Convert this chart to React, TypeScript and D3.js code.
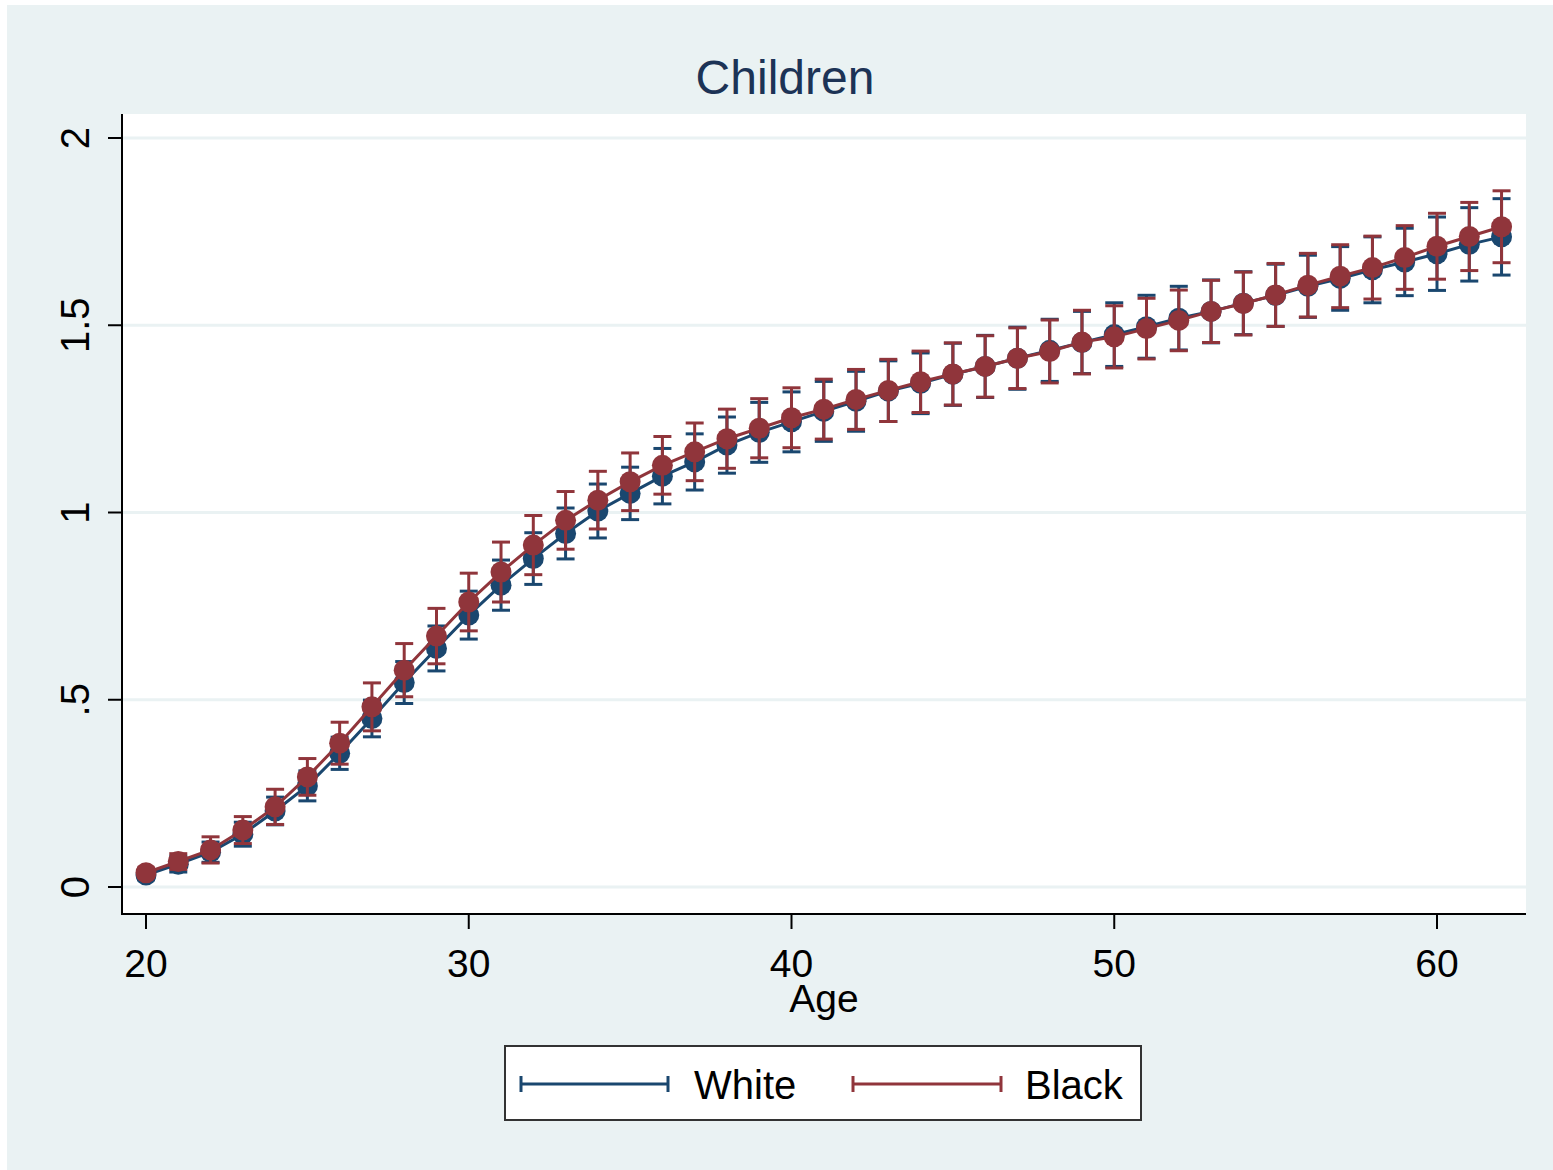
import React from "react";
import * as d3 from "d3";

const ages: number[] = d3.range(20, 63);

const blackMean: number[] = [
  0.038, 0.068, 0.099, 0.152, 0.214, 0.294, 0.384, 0.481, 0.579, 0.670,
  0.761, 0.841, 0.913, 0.979, 1.033, 1.082, 1.126, 1.162, 1.197, 1.225,
  1.253, 1.276, 1.302, 1.326, 1.349, 1.370, 1.390, 1.412, 1.430, 1.455,
  1.469, 1.491, 1.513, 1.537, 1.558, 1.581, 1.607, 1.631, 1.654, 1.681,
  1.711, 1.737, 1.763,
];
const blackCI: number[] = [
  0.013, 0.021, 0.035, 0.036, 0.047, 0.049, 0.056, 0.064, 0.071, 0.074,
  0.077, 0.080, 0.079, 0.077, 0.077, 0.077, 0.077, 0.077, 0.079, 0.079,
  0.080, 0.080, 0.080, 0.083, 0.082, 0.083, 0.082, 0.081, 0.084, 0.085,
  0.083, 0.081, 0.081, 0.083, 0.084, 0.084, 0.085, 0.084, 0.084, 0.085,
  0.088, 0.091, 0.096,
];
const whiteMean: number[] = [
  0.032, 0.061, 0.093, 0.141, 0.203, 0.270, 0.357, 0.450, 0.546, 0.637,
  0.726, 0.806, 0.877, 0.944, 1.004, 1.051, 1.097, 1.135, 1.180, 1.214,
  1.242, 1.270, 1.297, 1.324, 1.345, 1.369, 1.390, 1.412, 1.433, 1.454,
  1.475, 1.496, 1.519, 1.537, 1.559, 1.580, 1.604, 1.625, 1.648, 1.669,
  1.691, 1.716, 1.736,
];
const whiteCI: number[] = [
  0.013, 0.021, 0.027, 0.032, 0.037, 0.040, 0.043, 0.049, 0.056, 0.060,
  0.064, 0.067, 0.069, 0.068, 0.072, 0.070, 0.074, 0.075, 0.075, 0.080,
  0.080, 0.080, 0.080, 0.081, 0.081, 0.083, 0.083, 0.083, 0.083, 0.083,
  0.085, 0.084, 0.085, 0.084, 0.084, 0.083, 0.083, 0.085, 0.088, 0.090,
  0.098, 0.098, 0.102,
];

const xTicks: number[] = [20, 30, 40, 50, 60];
const yTicks: number[] = [0, 0.5, 1, 1.5, 2];
const yTickLabels: string[] = ["0", ".5", "1", "1.5", "2"];

const titleText = "Children";
const xTitle = "Age";
const seriesNames: string[] = ["White", "Black"];

const BG = "#eaf2f3";
const NAVY = "#1a476f";
const MAROON = "#90353b";
const FONT = "'Liberation Sans', Arial, sans-serif";

export default function App() {
  const W = 1553;
  const H = 1170;
  const plotL = 122;
  const plotR = 1526;
  const plotT = 114;
  const plotB = 914;

  const x = d3.scaleLinear().domain([20, 60]).range([146, 1437]);
  const y = d3.scaleLinear().domain([0, 2]).range([887, 138]);

  const line = d3
    .line<[number, number]>()
    .x((d) => x(d[0]))
    .y((d) => y(d[1]));

  const series = [
    { name: seriesNames[0], mean: whiteMean, ci: whiteCI, color: NAVY },
    { name: seriesNames[1], mean: blackMean, ci: blackCI, color: MAROON },
  ];

  const capW = 9;

  return (
    <svg
      width={W}
      height={H}
      style={{ position: "absolute", left: 0, top: 0, display: "block" }}
      xmlns="http://www.w3.org/2000/svg"
    >
      <rect x={0} y={0} width={W} height={H} fill="#ffffff" />
      <rect x={7} y={5} width={W - 7} height={H - 5} fill={BG} />
      <rect x={plotL} y={plotT} width={plotR - plotL} height={plotB - plotT} fill="#ffffff" />

      {yTicks.map((t) => (
        <line
          key={"g" + t}
          x1={plotL}
          x2={plotR}
          y1={y(t)}
          y2={y(t)}
          stroke={BG}
          strokeWidth={3}
        />
      ))}

      {series.map((s) => (
        <g key={s.name}>
          {ages.map((a, i) => (
            <g key={a} stroke={s.color} strokeWidth={3}>
              <line x1={x(a)} x2={x(a)} y1={y(s.mean[i] - s.ci[i])} y2={y(s.mean[i] + s.ci[i])} />
              <line x1={x(a) - capW} x2={x(a) + capW} y1={y(s.mean[i] + s.ci[i])} y2={y(s.mean[i] + s.ci[i])} />
              <line x1={x(a) - capW} x2={x(a) + capW} y1={y(s.mean[i] - s.ci[i])} y2={y(s.mean[i] - s.ci[i])} />
            </g>
          ))}
          <path
            d={line(ages.map((a, i) => [a, s.mean[i]] as [number, number])) || ""}
            fill="none"
            stroke={s.color}
            strokeWidth={3}
          />
          {ages.map((a, i) => (
            <circle key={"m" + a} cx={x(a)} cy={y(s.mean[i])} r={10.5} fill={s.color} />
          ))}
        </g>
      ))}

      {/* axes */}
      <line x1={plotL} x2={plotL} y1={plotT} y2={plotB + 1} stroke="#000" strokeWidth={2} />
      <line x1={plotL - 1} x2={plotR} y1={plotB} y2={plotB} stroke="#000" strokeWidth={2} />

      {yTicks.map((t, i) => (
        <g key={"yt" + t}>
          <line x1={plotL - 14} x2={plotL} y1={y(t)} y2={y(t)} stroke="#000" strokeWidth={2} />
          <text
            transform={`translate(89,${y(t)}) rotate(-90)`}
            textAnchor="middle"
            fontFamily={FONT}
            fontSize={40}
            fill="#000"
          >
            {yTickLabels[i]}
          </text>
        </g>
      ))}

      {xTicks.map((t) => (
        <g key={"xt" + t}>
          <line x1={x(t)} x2={x(t)} y1={plotB} y2={plotB + 15} stroke="#000" strokeWidth={2} />
          <text x={x(t)} y={977} textAnchor="middle" fontFamily={FONT} fontSize={39} fill="#000">
            {t}
          </text>
        </g>
      ))}

      <text x={(plotL + plotR) / 2} y={1012} textAnchor="middle" fontFamily={FONT} fontSize={39} fill="#000">
        {xTitle}
      </text>

      <text x={785} y={94} textAnchor="middle" fontFamily={FONT} fontSize={48} fill="#1c3356">
        {titleText}
      </text>

      {/* legend */}
      <rect x={505} y={1046} width={636} height={74} fill="#ffffff" stroke="#333" strokeWidth={2} />
      {[
        { lx1: 521, lx2: 668, tx: 694, s: series[0] },
        { lx1: 853, lx2: 1001, tx: 1025, s: series[1] },
      ].map((l) => (
        <g key={"lg" + l.s.name}>
          <g stroke={l.s.color} strokeWidth={3}>
            <line x1={l.lx1} x2={l.lx2} y1={1084} y2={1084} />
            <line x1={l.lx1} x2={l.lx1} y1={1076} y2={1092} />
            <line x1={l.lx2} x2={l.lx2} y1={1076} y2={1092} />
          </g>
          <text x={l.tx} y={1099} fontFamily={FONT} fontSize={40} fill="#000">
            {l.s.name}
          </text>
        </g>
      ))}
    </svg>
  );
}
